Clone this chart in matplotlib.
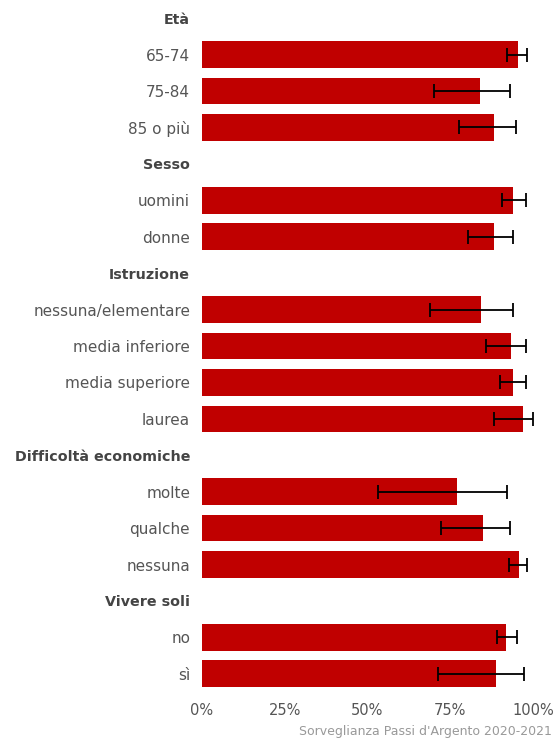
import matplotlib
matplotlib.use("Agg")
import matplotlib.pyplot as plt

plt.rcParams["font.family"] = ["DejaVu Sans"]

# row labels top to bottom; group headers have no value
labels = ["Età", "65-74", "75-84", "85 o più",
          "Sesso", "uomini", "donne",
          "Istruzione", "nessuna/elementare", "media inferiore", "media superiore", "laurea",
          "Difficoltà economiche", "molte", "qualche", "nessuna",
          "Vivere soli", "no", "sì"]
headers = ["Età", "Sesso", "Istruzione", "Difficoltà economiche", "Vivere soli"]

values = [None, 95.4, 83.9, 88.1,
          None, 94.1, 88.1,
          None, 84.3, 93.3, 94.1, 97.1,
          None, 77.1, 84.8, 95.8,
          None, 91.9, 88.9]
ci_low = [None, 92.1, 70.2, 77.7,
          None, 90.5, 80.3,
          None, 68.8, 85.8, 90.1, 88.3,
          None, 53.2, 72.2, 92.7,
          None, 89.1, 71.4]
ci_high = [None, 98.2, 93.1, 94.8,
           None, 97.8, 93.9,
           None, 93.9, 97.8, 97.8, 100.0,
           None, 92.1, 93.1, 98.2,
           None, 95.2, 97.3]

xticks = [0, 25, 50, 75, 100]
xticklabels = ["0%", "25%", "50%", "75%", "100%"]

RED = "#c00000"

fig = plt.figure(figsize=(5.56, 7.38), dpi=100)
ax = fig.add_axes([202 / 556, 46 / 738, 331 / 556, 692 / 738])

rows = list(range(len(labels)))
for y, v, lo, hi in zip(rows, values, ci_low, ci_high):
    if v is None:
        continue
    ax.barh(y, v, height=0.73, color=RED, zorder=2)
    ax.errorbar(v, y, xerr=[[v - lo], [hi - v]], fmt="none", ecolor="black",
                elinewidth=1.3, capsize=5, capthick=1.3, zorder=3, clip_on=False)

ax.set_ylim(len(labels) - 0.5, -0.5)
ax.set_xlim(0, 100)
ax.set_yticks(rows)
ax.set_yticklabels(labels)
for lab in ax.get_yticklabels():
    if lab.get_text() in headers:
        lab.set_fontweight("bold")
        lab.set_color("#444444")
        lab.set_fontsize(10.3)
    else:
        lab.set_color("#555555")
        lab.set_fontsize(11)

ax.set_xticks(xticks)
ax.set_xticklabels(xticklabels, fontsize=10.5, color="#555555")
ax.tick_params(axis="both", length=0)
ax.tick_params(axis="y", pad=8.5)
ax.tick_params(axis="x", pad=8)
for s in ax.spines.values():
    s.set_visible(False)

fig.text(552 / 556, 1 - 731 / 738, "Sorveglianza Passi d'Argento 2020-2021",
         ha="right", va="center", fontsize=9, color="#999999")

fig.savefig("out.png", dpi=100)
